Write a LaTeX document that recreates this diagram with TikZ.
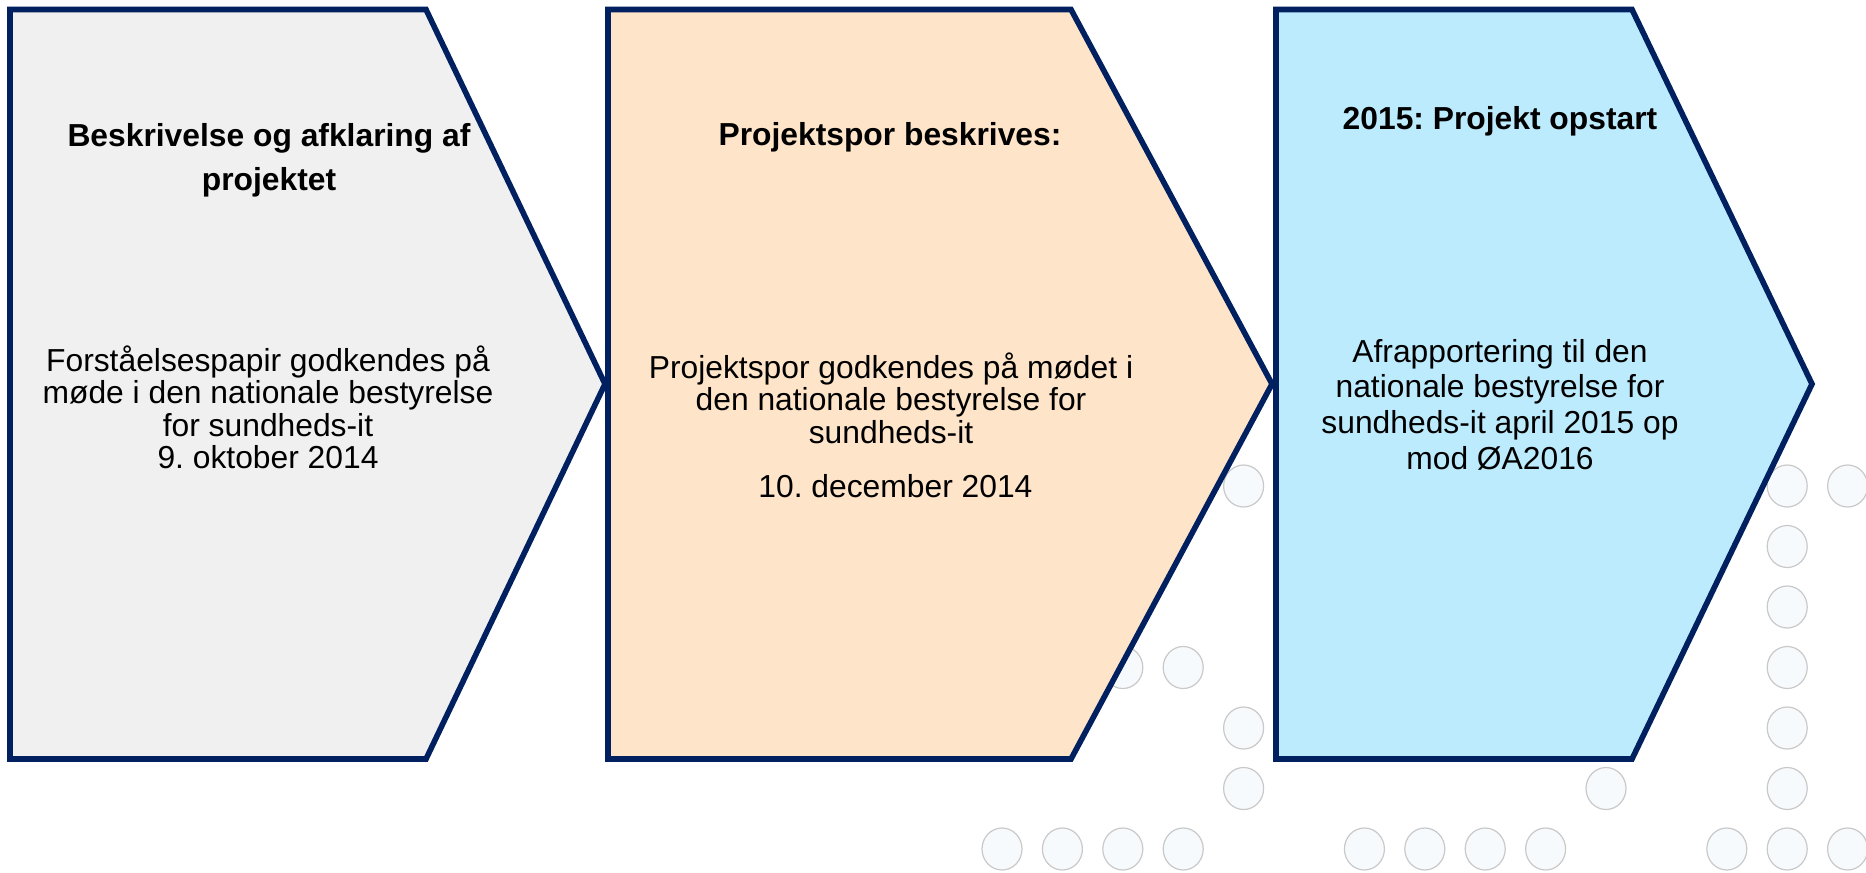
\documentclass[tikz,border=0pt]{standalone}
\usepackage{fontspec}
\setmainfont{Liberation Sans}
\definecolor{navy}{HTML}{002060}
\definecolor{greyfill}{HTML}{F0F0F0}
\definecolor{peach}{HTML}{FEE4C8}
\definecolor{skyfill}{HTML}{BDEBFE}
\definecolor{dotfill}{HTML}{F7FAFC}
\definecolor{dotline}{HTML}{C9C9C9}
\newcommand{\mylines}[1]{\begin{tabular}[t]{@{}c@{}}#1\end{tabular}}
\frenchspacing
\tikzset{
  chev/.style={draw=navy, line width=2.8pt, line join=miter},
  dotc/.style={fill=dotfill, draw=dotline, line width=0.6pt},
  ttl/.style={anchor=base, inner sep=0pt, font=\frenchspacing\bfseries\fontsize{15.9}{22}\selectfont},
  bdy/.style={anchor=base, inner sep=0pt, font=\frenchspacing\fontsize{15.9}{16}\selectfont},
  bdyb/.style={anchor=base, inner sep=0pt, font=\frenchspacing\fontsize{15.9}{17.9}\selectfont},
}
\begin{document}
\begin{tikzpicture}[x=0.5pt, y=-0.5pt]
\useasboundingbox[fill=white] (0,0) rectangle (1866,872);
% background dots
\foreach \k/\r in {0/0,1/0,2/0,3/0,6/0,7/0,8/0,9/0,12/0,13/0,14/0,
                   4/1,10/1,13/1, 4/2,13/2, 2/3,3/3,13/3, 13/4, 13/5, 4/6,13/6,14/6}
  \draw[dotc] ({1002+60.4*\k},{849-60.5*\r}) ellipse [x radius=10pt, y radius=10.5pt];
% chevrons
\draw[chev, fill=greyfill] (10,9.5) -- (426,9.5) -- (605,384) -- (426,759) -- (10,759) -- cycle;
\draw[chev, fill=peach] (608,9.5) -- (1071,9.5) -- (1272,384) -- (1071,759) -- (608,759) -- cycle;
\draw[chev, fill=skyfill] (1276,9.5) -- (1632,9.5) -- (1812,384) -- (1632,759) -- (1276,759) -- cycle;
% texts
\node[ttl] (t1) at (269,146) {\mylines{Beskrivelse og afklaring af\\projektet}};
\node[bdy] (b1) at (268,371) {\mylines{Forståelsespapir godkendes på\\møde i den nationale bestyrelse\\for sundheds-it\\9. oktober 2014}};
\node[ttl] (t2) at (890,145) {\mylines{Projektspor beskrives:}};
\node[bdy] (b2) at (891,378) {\mylines{Projektspor godkendes på mødet i\\den nationale bestyrelse for\\sundheds-it\\[11pt]\hspace*{0.28em}10. december 2014}};
\node[ttl] (t3) at (1500,129) {\mylines{2015: Projekt opstart}};
\node[bdyb] (b3) at (1500,362) {\mylines{Afrapportering til den\\nationale bestyrelse for\\sundheds-it april 2015 op\\mod ØA2016}};
\end{tikzpicture}
\end{document}
